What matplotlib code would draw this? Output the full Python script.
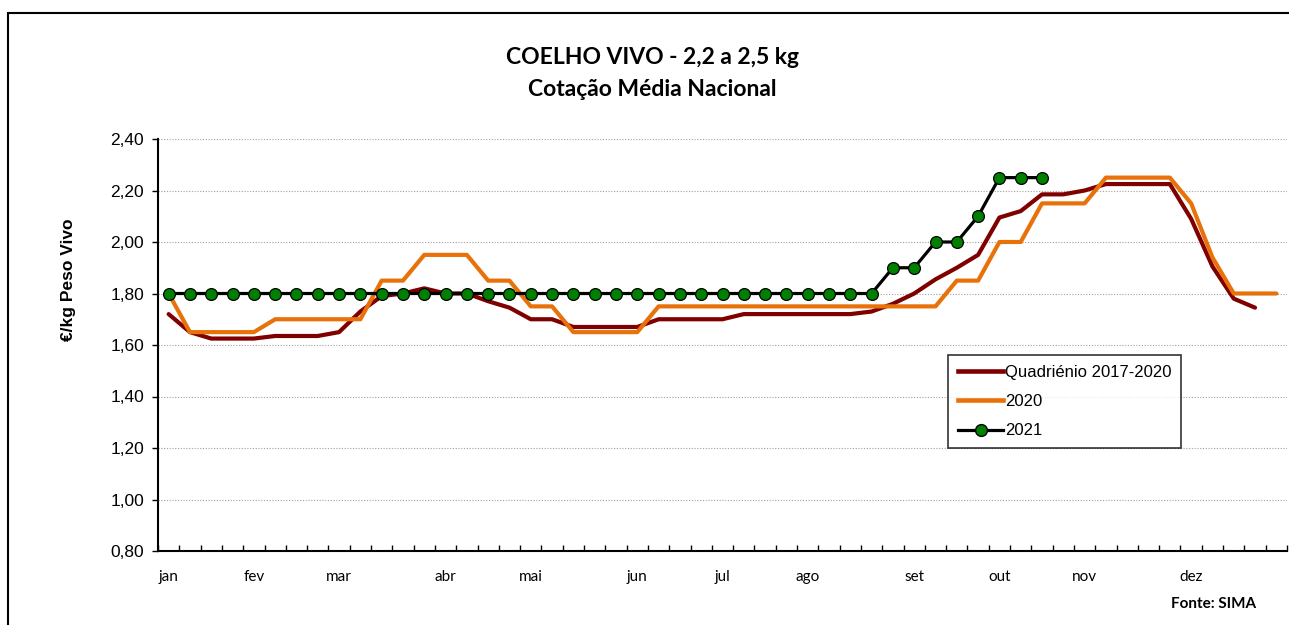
import matplotlib
matplotlib.use("Agg")
import matplotlib.pyplot as plt
from matplotlib.patches import Rectangle
from matplotlib.lines import Line2D
import numpy as np

# ---- data ----
month_labels = ["jan", "fev", "mar", "abr", "mai", "jun", "jul", "ago", "set", "out", "nov", "dez"]
month_weeks = [0, 4, 8, 13, 17, 22, 26, 30, 35, 39, 43, 48]
n_weeks = 53

quad_2017_2020 = [1.72, 1.65, 1.625, 1.625, 1.625, 1.635, 1.635, 1.635, 1.65, 1.73,
                  1.79, 1.80, 1.82, 1.80, 1.80, 1.77, 1.745, 1.70, 1.70, 1.67,
                  1.67, 1.67, 1.67, 1.70, 1.70, 1.70, 1.70, 1.72, 1.72, 1.72,
                  1.72, 1.72, 1.72, 1.73, 1.76, 1.80, 1.855, 1.90, 1.95, 2.095,
                  2.12, 2.185, 2.185, 2.20, 2.225, 2.225, 2.225, 2.225, 2.09, 1.905,
                  1.78, 1.745]
y2020 = [1.80, 1.65, 1.65, 1.65, 1.65, 1.70, 1.70, 1.70, 1.70, 1.70,
         1.85, 1.85, 1.95, 1.95, 1.95, 1.85, 1.85, 1.75, 1.75, 1.65,
         1.65, 1.65, 1.65, 1.75, 1.75, 1.75, 1.75, 1.75, 1.75, 1.75,
         1.75, 1.75, 1.75, 1.75, 1.75, 1.75, 1.75, 1.85, 1.85, 2.00,
         2.00, 2.15, 2.15, 2.15, 2.25, 2.25, 2.25, 2.25, 2.15, 1.94,
         1.80, 1.80, 1.80]
y2021 = [1.80] * 34 + [1.90, 1.90, 2.00, 2.00, 2.10, 2.25, 2.25, 2.25]

series_names = ["Quadriénio 2017-2020", "2020", "2021"]
title_lines = ["COELHO VIVO - 2,2 a 2,5 kg", "Cotação Média Nacional"]
y_label = "€/kg Peso Vivo"
source = "Fonte: SIMA"

# ---- figure ----
W, H = 1289, 625
fig = plt.figure(figsize=(W / 100, H / 100), dpi=100)
fig.patch.set_facecolor("white")

# outer frame
fig.add_artist(Rectangle((8 / W, -0.05), 1.2, (H - 13) / H + 0.05, transform=fig.transFigure,
                         fill=False, edgecolor="black", linewidth=1.5))

ax = fig.add_axes([158 / W, 1 - 551 / H, (1287 - 158) / W, (551 - 139) / H])

c_quad = "#800000"
c_2020 = "#E8710A"

ax.plot(np.arange(len(quad_2017_2020)), quad_2017_2020, color=c_quad, lw=3.0,
        solid_capstyle="round", zorder=3)
ax.plot(np.arange(len(y2020)), y2020, color=c_2020, lw=3.0, solid_capstyle="round", zorder=3)
ax.plot(np.arange(len(y2021)), y2021, color="black", lw=2.3, marker="o", markersize=8.5,
        markerfacecolor="#008000", markeredgecolor="black", markeredgewidth=0.9, zorder=4)

ax.set_xlim(-0.5, n_weeks - 0.5)
ax.set_ylim(0.8, 2.4)
ax.set_yticks(np.arange(0.8, 2.41, 0.2))
ax.set_yticklabels([f"{v:.2f}".replace(".", ",") for v in np.arange(0.8, 2.41, 0.2)],
                   fontfamily="Liberation Sans", fontsize=12.5)
ax.tick_params(axis="y", direction="out", length=4, width=1, pad=6)

ax.set_xticks(month_weeks)
ax.set_xticklabels(month_labels, fontfamily="Lato", fontsize=11)
ax.tick_params(axis="x", which="major", length=0, pad=14)
ax.set_xticks(np.arange(-0.5, n_weeks, 1.0), minor=True)
ax.tick_params(axis="x", which="minor", direction="in", length=4, width=1)

ax.grid(axis="y", linestyle=(0, (1, 1.5)), color="#a0a0a0", linewidth=0.8)
ax.set_axisbelow(True)
for s in ["top", "right"]:
    ax.spines[s].set_visible(False)
for s in ["left", "bottom"]:
    ax.spines[s].set_linewidth(1.5)

handles = [Line2D([], [], color=c_quad, lw=3.3),
           Line2D([], [], color=c_2020, lw=3.3),
           Line2D([], [], color="black", lw=2.3, marker="o", markersize=8.5,
                  markerfacecolor="#008000", markeredgecolor="black")]
leg = ax.legend(handles, series_names, loc="upper left",
                bbox_to_anchor=((948 - 158) / (1287 - 158), 1 - (355 - 139) / (551 - 139)),
                prop={"family": "Liberation Sans", "size": 12}, frameon=True, fancybox=False,
                edgecolor="black", handlelength=2.7, handletextpad=0.1, labelspacing=0.85,
                borderpad=0.6, borderaxespad=0)
leg.get_frame().set_linewidth(1.2)

fig.text(652 / W, 1 - 57 / H, title_lines[0], ha="center", va="center",
         fontfamily="Lato", fontweight="bold", fontsize=16.5)
fig.text(652 / W, 1 - 89 / H, title_lines[1], ha="center", va="center",
         fontfamily="Lato", fontweight="bold", fontsize=16.5)
fig.text(68 / W, 1 - 280 / H, y_label, ha="center", va="center", rotation=90,
         fontfamily="Liberation Sans", fontweight="bold", fontsize=12.5)
fig.text(1214 / W, 1 - 604 / H, source, ha="center", va="center",
         fontfamily="Lato", fontweight="bold", fontsize=11)

fig.savefig("out.png", dpi=100)
